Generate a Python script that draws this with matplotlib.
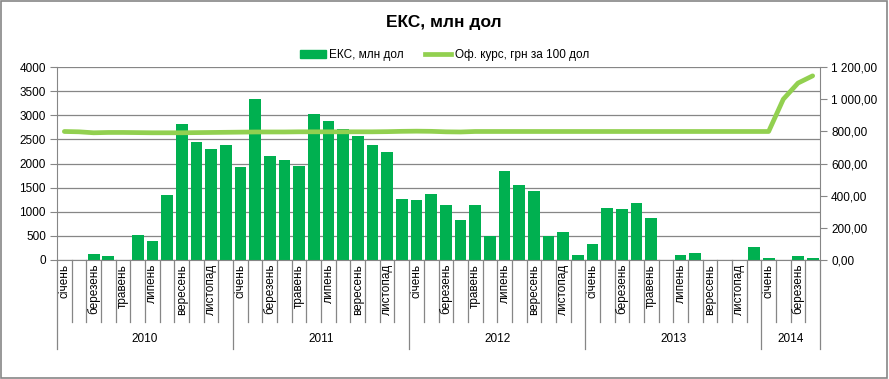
import numpy as np
import matplotlib
matplotlib.use("Agg")
import matplotlib.pyplot as plt
from matplotlib.patches import Rectangle
from matplotlib.lines import Line2D
from matplotlib.ticker import FuncFormatter, MultipleLocator

plt.rcParams['font.family'] = ['Liberation Sans', 'DejaVu Sans']

years = ["2010", "2011", "2012", "2013", "2014"]
months_per_year = [12, 12, 12, 12, 4]
month_names = ["січень", "лютий", "березень", "квітень", "травень", "червень",
               "липень", "серпень", "вересень", "жовтень", "листопад", "грудень"]

# ЕКС, млн дол (monthly)
eks = [0, 0, 120, 80, 0, 520, 400, 1340, 2810, 2440, 2310, 2375,
       1920, 3345, 2150, 2065, 1940, 3035, 2890, 2725, 2580, 2375, 2230, 1260,
       1240, 1365, 1135, 825, 1135, 490, 1840, 1550, 1425, 490, 580, 105,
       330, 1075, 1055, 1180, 870, 0, 105, 145, 0, 0, 0, 270,
       40, 0, 85, 40]

# Оф. курс, грн за 100 дол
rate = [799, 797, 791, 793, 793, 792, 791, 791, 791, 792, 793, 794,
        795, 796, 796, 796, 797, 797, 797, 797, 797, 797, 798, 800,
        801, 800, 797, 796, 799, 799, 799, 799, 799, 799, 799, 799,
        799, 799, 799, 799, 799, 799, 799, 799, 799, 799, 799, 799,
        799, 1000, 1100, 1145]

n = len(eks)
x = np.arange(n)
grey = "#868686"

fig = plt.figure(figsize=(8.89, 3.79), dpi=100)
ax = fig.add_axes([57 / 889, 1 - 260 / 379, (820 - 57) / 889, (260 - 67) / 379])
ax2 = ax.twinx()

ax.bar(x, eks, width=0.8, color="#00B050", zorder=2)
ax2.plot(x, rate, color="#92D050", lw=3.4, solid_capstyle="round", zorder=3)

ax.set_xlim(-0.5, n - 0.5)
ax.set_ylim(0, 4000)
ax.yaxis.set_major_locator(MultipleLocator(500))
ax2.set_ylim(0, 1200)
ax2.yaxis.set_major_locator(MultipleLocator(200))
ax2.yaxis.set_major_formatter(FuncFormatter(
    lambda v, p: f"{v:,.2f}".replace(",", " ").replace(".", ",")))

ax.grid(axis="y", color=grey, lw=0.9, zorder=0)
ax.set_axisbelow(True)
ax.set_xticks([])
for a in (ax, ax2):
    for s in a.spines.values():
        s.set_visible(False)
    a.tick_params(axis="y", direction="out", length=5, color=grey, labelsize=8.5, pad=3)
ax.spines["left"].set_visible(True)
ax.spines["left"].set_color(grey)
ax.spines["bottom"].set_visible(True)
ax.spines["bottom"].set_color(grey)
ax2.spines["right"].set_visible(True)
ax2.spines["right"].set_color(grey)

# category axis: month labels, separators and year groups
tr = ax.get_xaxis_transform()
for k in range(n):
    m = k
    for cnt in months_per_year:
        if m < cnt:
            break
        m -= cnt
    if m % 2 == 0:
        ax.text(k, -0.02, month_names[m], rotation=90, ha="center", va="top",
                fontsize=8.5, transform=tr)
bounds = np.cumsum([0] + months_per_year)
for k in range(n + 1):
    bottom = -0.459 if k in bounds else -0.32
    ax.plot([k - 0.5, k - 0.5], [0, bottom], color=grey, lw=0.9,
            transform=tr, clip_on=False)
for i, yr in enumerate(years):
    mid = (bounds[i] + bounds[i + 1]) / 2 - 0.5
    ax.text(mid, -0.41, yr, ha="center", va="center", fontsize=8.5, transform=tr)

fig.text(0.499, 1 - 22 / 379, "ЕКС, млн дол", ha="center", va="center",
         fontsize=12.5, fontweight="bold")

handles = [Rectangle((0, 0), 1, 1, color="#00B050"),
           Line2D([0], [0], color="#92D050", lw=3.4)]
fig.legend(handles, ["ЕКС, млн дол", "Оф. курс, грн за 100 дол"],
           loc="center", bbox_to_anchor=(0.5, 1 - 55 / 379), ncol=2,
           frameon=False, fontsize=8.5, handlelength=2.2, handleheight=0.6,
           handletextpad=0.3, columnspacing=1.8)

fig.patches.append(Rectangle((0.001, 0.003), 0.997, 0.994, transform=fig.transFigure,
                             fill=False, edgecolor=grey, lw=1.2))

fig.savefig("out.png", dpi=100)
